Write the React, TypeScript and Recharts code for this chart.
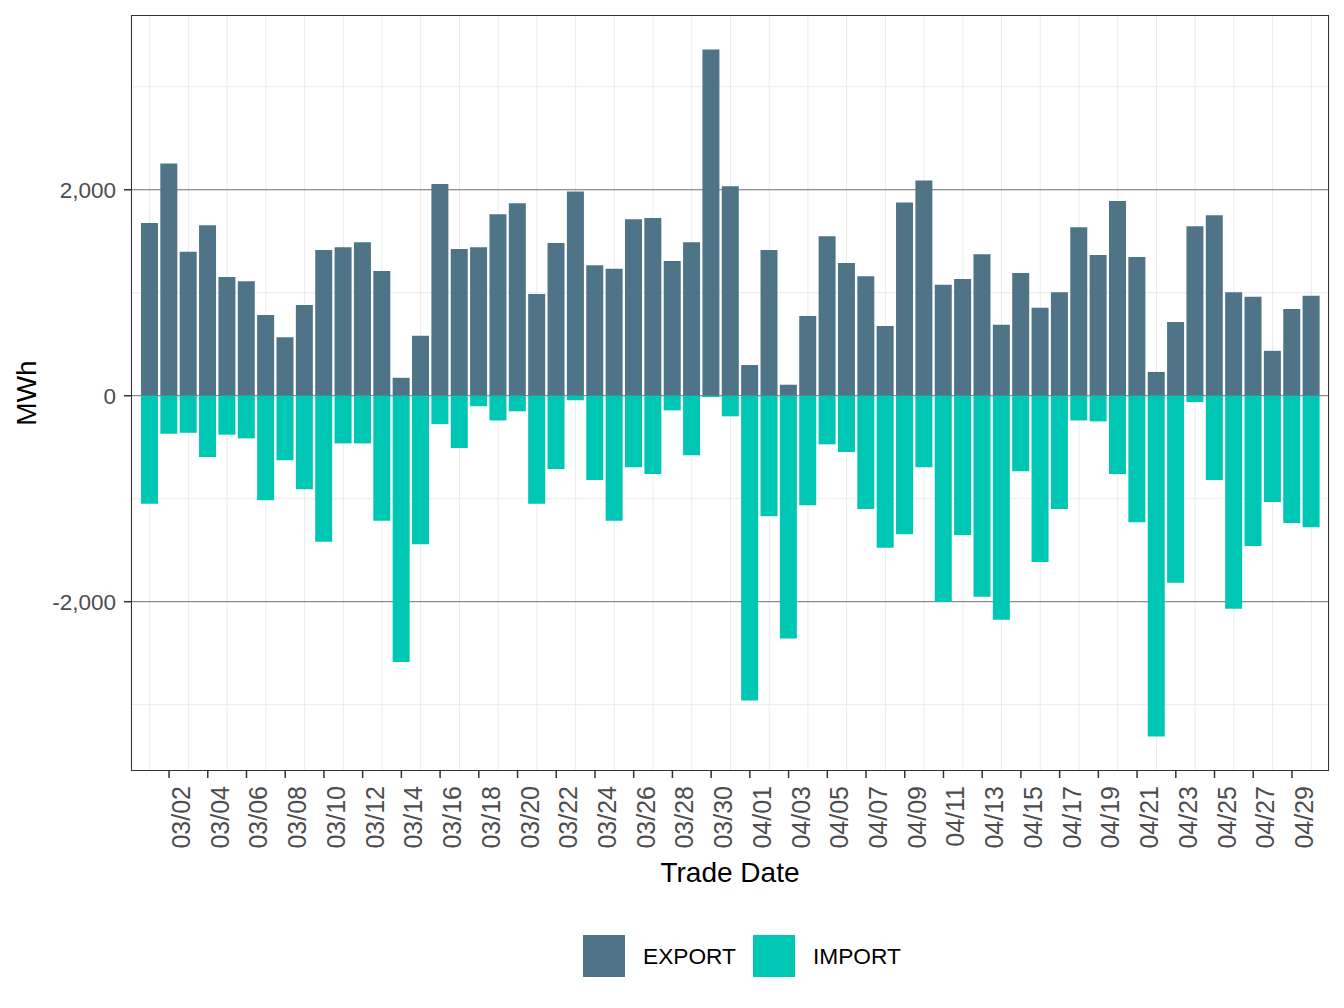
import React from 'react';
import { BarChart, Bar, XAxis, YAxis, CartesianGrid } from 'recharts';

// Trade dates 03/01 .. 04/30
const monthDays: Array<[string, number]> = [['03', 31], ['04', 30]];
const tradeDates: string[] = [];
monthDays.forEach(([m, n]) => {
  for (let d = 1; d <= n; d++) tradeDates.push(`${m}/${String(d).padStart(2, '0')}`);
});

// MWh
const exportMWh = [
  1677, 2256, 1397, 1655, 1152, 1112, 783, 569, 881, 1415, 1441, 1490, 1210, 174, 583, 2055,
  1424, 1441, 1762, 1869, 988, 1482, 1984, 1268, 1232, 1713, 1726, 1308, 1490, 3363, 2033,
  298, 1415, 107, 774, 1548, 1290, 1161, 676, 1877, 2091, 1077, 1134, 1375, 690, 1192,
  854, 1005, 1637, 1366, 1891, 1348, 231, 716, 1646, 1753, 1005, 961, 436, 841, 970,
];
const importMWh = [
  -1050, -369, -360, -596, -378, -414, -1014, -627, -908, -1419, -463, -463, -1215, -2585, -1441, -276,
  -507, -102, -240, -151, -1050, -712, -44, -819, -1215, -694, -761, -142, -578, -13, -200,
  -2959, -1170, -2358, -1063, -472, -547, -1099, -1477, -1344, -694, -2002, -1352, -1953, -2176, -734,
  -1615, -1099, -240, -249, -761, -1228, -3310, -1815, -62, -819, -2069, -1459, -1032, -1237, -1277,
];

const tickDates = tradeDates.filter((_, i) => i % 2 === 1);
const gridDates = tradeDates.filter((_, i) => i % 2 === 0);
const yTicks = [-2000, 0, 2000];
const yMinor = [-3000, -1000, 1000, 3000];

const EXPORT_COLOR = '#4F7488';
const IMPORT_COLOR = '#00C7B3';
const FONT = '"Liberation Sans", Arial, Helvetica, sans-serif';
const X_PAD = { left: 9, right: 8 };

const data = tradeDates.map((date, i) => ({
  date,
  EXPORT: exportMWh[i],
  IMPORT: importMWh[i],
}));

// eslint-disable-next-line @typescript-eslint/no-explicit-any
const XTick = ({ x, y, payload }: any) => (
  <text
    x={x}
    y={y}
    dy={21}
    transform={`rotate(-90 ${x} ${y})`}
    textAnchor="end"
    fontSize={25}
    fill="#4D4D4D"
    fontFamily={FONT}
  >
    {payload.value}
  </text>
);

// eslint-disable-next-line @typescript-eslint/no-explicit-any
const YTitle = ({ viewBox }: any) => {
  const cx = viewBox.x + 26;
  const cy = viewBox.y + viewBox.height / 2;
  return (
    <text x={cx} y={cy} dy={10} transform={`rotate(-90 ${cx} ${cy})`} textAnchor="middle"
      fontSize={28} fill="#000" fontFamily={FONT}>
      MWh
    </text>
  );
};

// eslint-disable-next-line @typescript-eslint/no-explicit-any
const XTitle = ({ viewBox }: any) => (
  <text x={viewBox.x + viewBox.width / 2} y={viewBox.y + 111} textAnchor="middle"
    fontSize={28} fill="#000" fontFamily={FONT}>
    Trade Date
  </text>
);

export default function App() {
  return (
    <div style={{ position: 'absolute', left: 0, top: 0, width: 1344, height: 1008, background: '#fff' }}>
      <BarChart
        width={1344}
        height={1008}
        data={data}
        stackOffset="sign"
        barCategoryGap="5%"
        margin={{ top: 15, right: 15, left: 0, bottom: 117 }}
      >
        {/* light minor grid; vertical lines sit on the odd days via a hidden axis */}
        <CartesianGrid stroke="#EBEBEB" strokeWidth={1} horizontalValues={yMinor} xAxisId="grid" />
        <CartesianGrid stroke="#6E6E6E" strokeWidth={1} horizontalValues={yTicks} vertical={false} />
        <XAxis
          dataKey="date"
          ticks={tickDates}
          interval={0}
          padding={X_PAD}
          height={120}
          axisLine={false}
          tickSize={7}
          tickMargin={8}
          tickLine={{ stroke: '#333', strokeWidth: 1.5 }}
          tick={<XTick />}
          label={XTitle}
        />
        <XAxis xAxisId="grid" dataKey="date" ticks={gridDates} interval={0} padding={X_PAD} hide />
        <YAxis
          type="number"
          domain={[-3644, 3697]}
          ticks={yTicks}
          interval={0}
          width={131}
          axisLine={false}
          tickSize={7}
          tickMargin={8}
          tickLine={{ stroke: '#333', strokeWidth: 1.5 }}
          tick={{ fill: '#4D4D4D', fontSize: 22.5, fontFamily: FONT }}
          tickFormatter={(v: number) => v.toLocaleString('en-US')}
          label={YTitle}
        />
        <Bar dataKey="EXPORT" stackId="a" fill={EXPORT_COLOR} isAnimationActive={false} />
        <Bar dataKey="IMPORT" stackId="a" fill={IMPORT_COLOR} isAnimationActive={false} />
      </BarChart>

      {/* panel border */}
      <div style={{
        position: 'absolute', left: 131, top: 15, width: 1198, height: 756,
        border: '1px solid #333', boxSizing: 'border-box', pointerEvents: 'none',
      }} />

      {/* legend */}
      <div style={{
        position: 'absolute', left: 583, top: 935, height: 42, display: 'flex', alignItems: 'center',
        fontFamily: FONT, fontSize: 22.7, color: '#000',
      }}>
        <span style={{ width: 42, height: 42, background: EXPORT_COLOR, display: 'inline-block' }} />
        <span style={{ marginLeft: 18, width: 110 }}>EXPORT</span>
        <span style={{ width: 42, height: 42, background: IMPORT_COLOR, display: 'inline-block' }} />
        <span style={{ marginLeft: 18 }}>IMPORT</span>
      </div>
    </div>
  );
}
